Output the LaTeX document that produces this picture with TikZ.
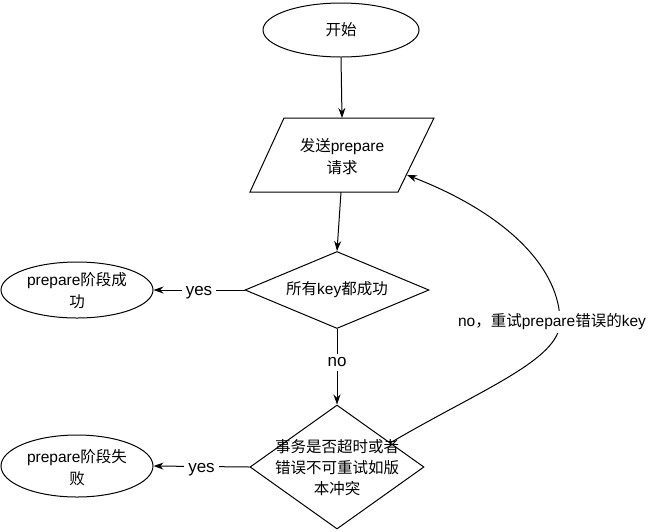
\documentclass[tikz,border=0pt]{standalone}
\usepackage{fontspec}
\setmainfont{Liberation Sans}
\newfontfamily\cjk{Noto Sans CJK SC}
\usetikzlibrary{shapes.geometric,arrows.meta}
\tikzset{
  base/.style={draw=black, line width=1pt, inner sep=0pt},
  term/.style={base, ellipse},
  decision/.style={base, diamond},
  txt/.style={align=center, font=\fontsize{15.5}{22}\selectfont},
  lbl/.style={fill=white, inner sep=4pt, yshift=-3pt, font=\fontsize{17}{20}\selectfont},
  conn/.style={line width=1pt, -{Stealth[length=10pt,width=7pt]}},
}
\begin{document}
\begin{tikzpicture}[x=1pt,y=-1pt]
\useasboundingbox (0,0) rectangle (652,531);
% start
\node[term, minimum width=156pt, minimum height=54pt] (start) at (341,30) {};
\node[txt] (startt) at (341,30) {\cjk 开始};
% parallelogram
\draw[line width=1pt] (284,118) -- (434,118) -- (398,192) -- (250,192) -- cycle;
\coordinate (ptop) at (342,118);
\coordinate (pbot) at (341,192);
\coordinate (pright) at (407,175);
\node[txt] (send) at (342,157) {{\cjk 发送}prepare\\{\cjk 请求}};
% decision 1
\node[decision, minimum width=184pt, minimum height=77pt] (d1) at (337,290) {};
\node[txt] (d1t) at (337,290) {{\cjk 所有}key{\cjk 都成功}};
% success
\node[term, minimum width=152pt, minimum height=56pt] (ok) at (77,290) {};
\node[txt] (okt) at (77,291) {prepare{\cjk 阶段成}\\{\cjk 功}};
% decision 2
\node[decision, minimum width=174pt, minimum height=124pt] (d2) at (337,467) {};
\node[txt, font=\fontsize{15.5}{21}\selectfont] (d2t) at (337,468) {{\cjk 事务是否超时或者}\\{\cjk 错误不可重试如版}\\{\cjk 本冲突}};
% fail
\node[term, minimum width=152pt, minimum height=62pt] (fail) at (77,466) {};
\node[txt] (failt) at (77,468) {prepare{\cjk 阶段失}\\{\cjk 败}};
% connectors
\draw[conn] (start.south) -- (ptop);
\draw[conn] (pbot) -- (d1.north);
\draw[conn] (d1.west) -- node[lbl] {yes} (ok.east);
\draw[conn] (d1.south) -- node[lbl, pos=0.4] {no} (d2.north);
\draw[conn] (d2.west) -- node[lbl] {yes} (fail.east);
\coordinate (cs) at (390,443);
\coordinate (cm) at (560,322);
\draw[conn] (cs) .. controls (480,390) and (560,360) .. (cm)
  node[fill=white, inner sep=3pt, xshift=-8pt, font=\fontsize{15.5}{20}\selectfont] (retry) {no{\cjk ，重试}prepare{\cjk 错误的}key}
  .. controls (560,270) and (510,215) .. (pright);
\end{tikzpicture}
\end{document}
